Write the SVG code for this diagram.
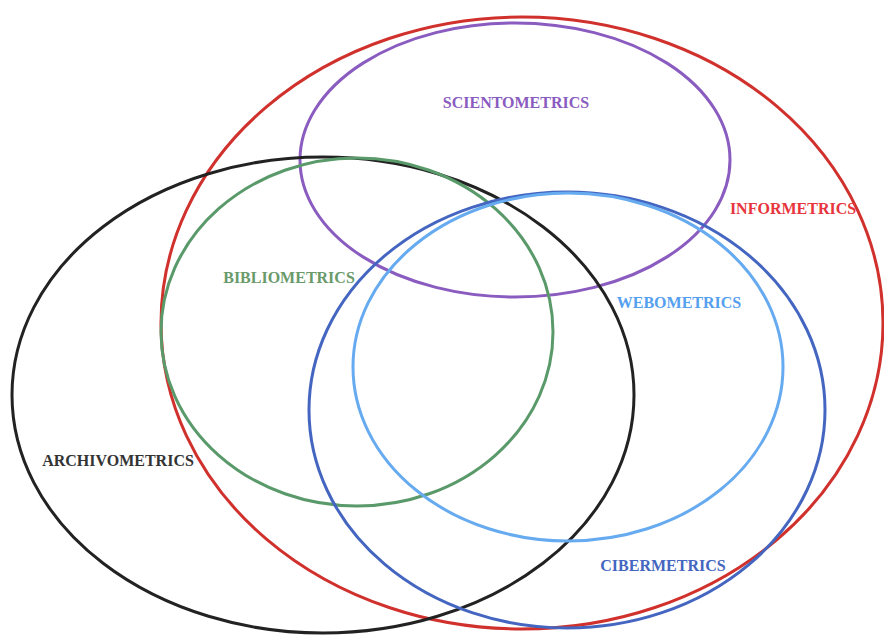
<svg xmlns="http://www.w3.org/2000/svg" width="884" height="635" viewBox="0 0 884 635">
<style>
.c{fill:none;stroke-width:3}
.t{font-family:"Liberation Serif",serif;font-weight:bold;font-size:16px;text-anchor:middle}
</style>
<rect width="884" height="635" fill="#fff"/>
<g id="informetrics"><ellipse class="c" cx="522" cy="323" rx="361" ry="306" stroke="#d0312d"/><text class="t" x="793" y="214" fill="#e8343c">INFORMETRICS</text></g>
<g id="scientometrics"><ellipse class="c" cx="515" cy="160" rx="215" ry="137" stroke="#8a5cc0"/><text class="t" x="516" y="108" fill="#8a5cc0">SCIENTOMETRICS</text></g>
<g id="archivometrics"><ellipse class="c" cx="323" cy="395" rx="311" ry="238" stroke="#222"/><text class="t" x="118" y="466" fill="#333">ARCHIVOMETRICS</text></g>
<g id="bibliometrics"><ellipse class="c" cx="357" cy="332" rx="196" ry="174" stroke="#5a9a6a"/><text class="t" x="289" y="283" fill="#6a9a6a">BIBLIOMETRICS</text></g>
<g id="cibermetrics"><ellipse class="c" cx="567" cy="410" rx="258" ry="218" stroke="#4466c0"/><text class="t" x="663" y="571" fill="#4466c0">CIBERMETRICS</text></g>
<g id="webometrics"><ellipse class="c" cx="568" cy="367" rx="215" ry="174" stroke="#66aaf0"/><text class="t" x="679" y="308" fill="#55a0ee">WEBOMETRICS</text></g>
<g id="connectors"/>
</svg>
